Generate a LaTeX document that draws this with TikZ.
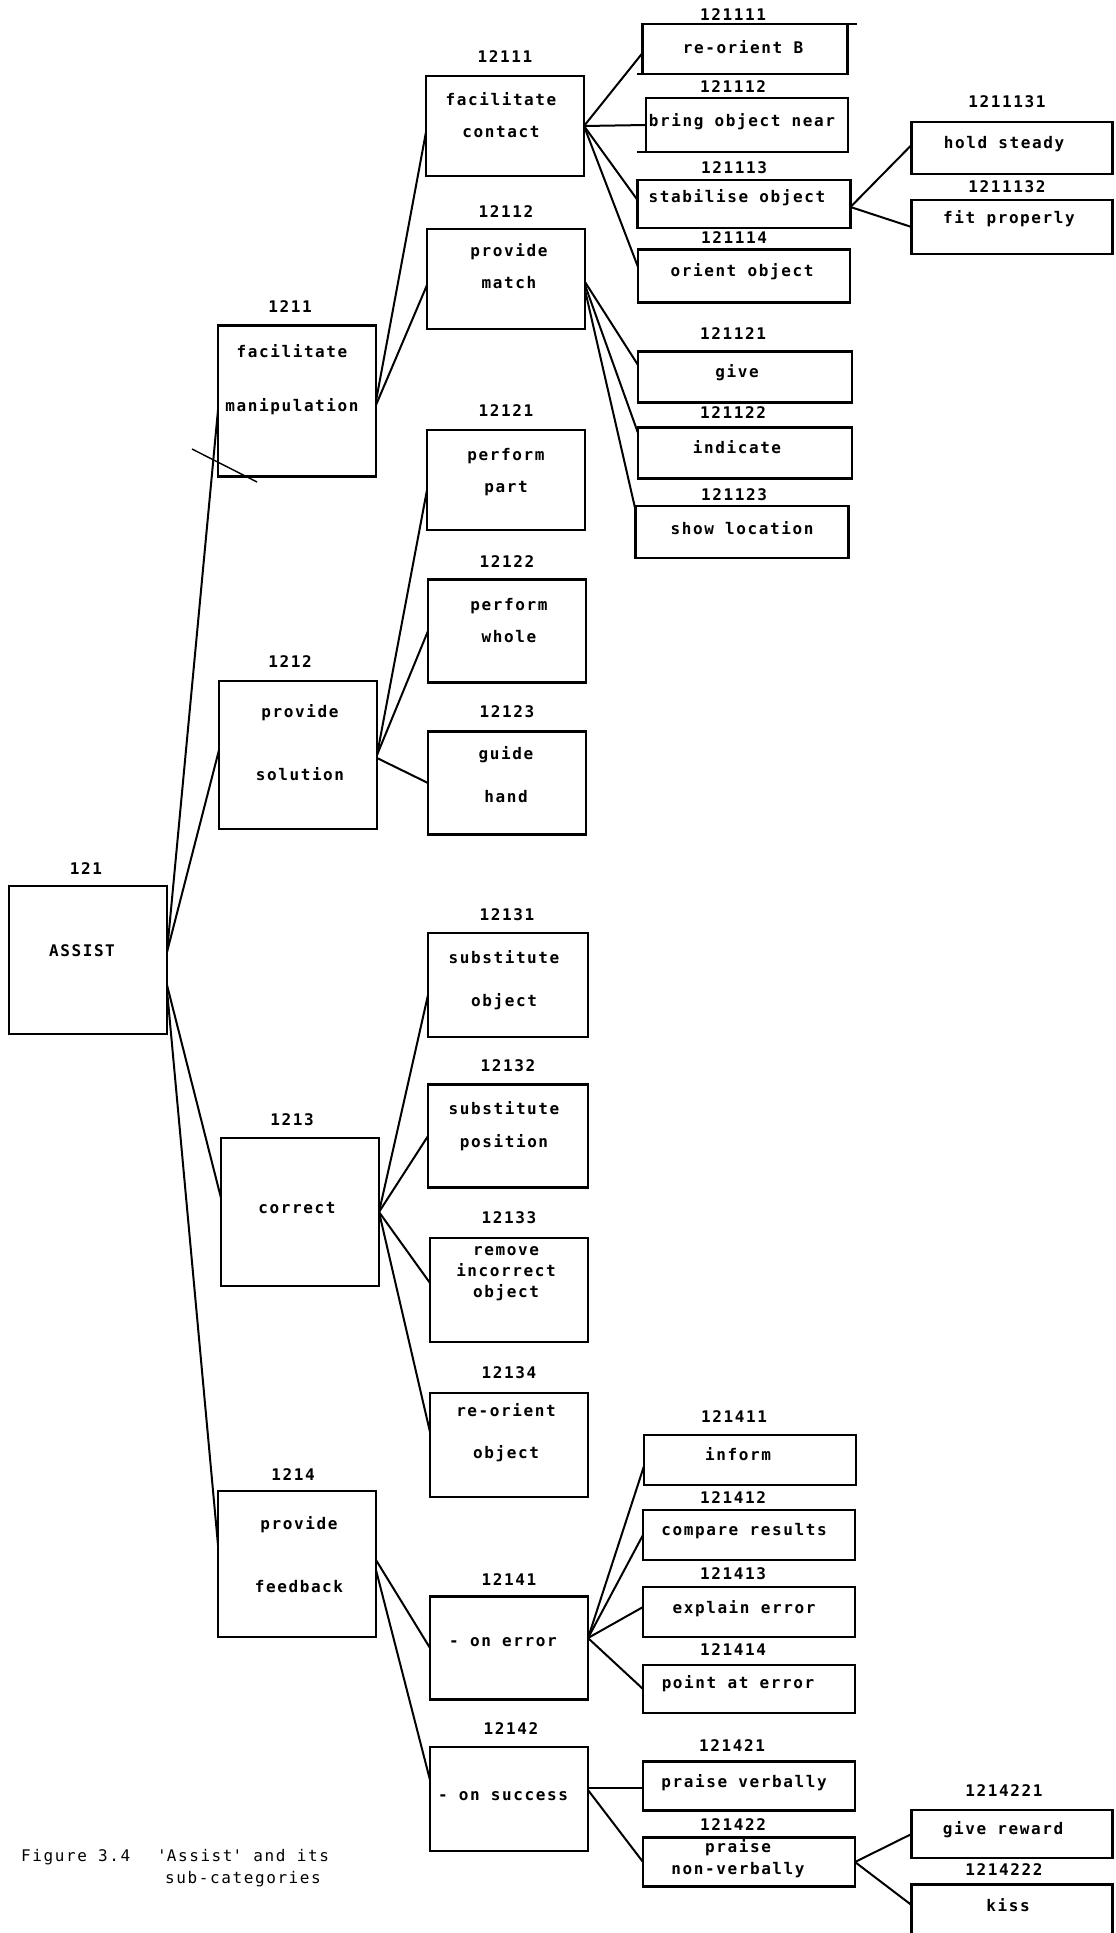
\documentclass[tikz,border=0pt]{standalone}
\usepackage{fontspec}
\newfontfamily\dotfont[LetterSpace=10]{DejaVu Sans Mono}
\usetikzlibrary{positioning}
\tikzset{
  x=1pt, y=-1pt,
  every node/.style={font=\dotfont\bfseries\fontsize{16}{19}\selectfont},
  box/.style={draw, line width=2.4pt, inner sep=0pt, outer sep=0pt},
  big/.style={box, minimum width=158pt, minimum height=148pt},
  mid/.style={box, minimum width=158pt, minimum height=103pt},
  leaf/.style={box, minimum width=212pt, minimum height=50pt},
  tip/.style={box, minimum width=201pt, minimum height=52pt},
  num/.style={inner sep=0pt},
  txt/.style={inner sep=0pt, align=center},
  caption/.style={inner sep=0pt, anchor=base west, font=\dotfont\fontsize{16}{19}\selectfont},
  link/.style={line width=2pt},
}
\begin{document}
\begin{tikzpicture}
  \useasboundingbox (0,0) rectangle (1116,1933);
  \clip (0,0) rectangle (1116,1933);

  % boxes
  \node[big] (assist) at (88,960) {};
  \node[big, minimum height=151pt] (b1211) at (297,401) {};
  \node[big] (b1212) at (298,755) {};
  \node[big] (b1213) at (300,1212) {};
  \node[big, minimum height=146pt] (b1214) at (297,1564) {};

  \node[mid, minimum height=100pt] (b12111) at (505,126) {};
  \node[mid, minimum height=100pt] (b12112) at (506,279) {};
  \node[mid, minimum height=100pt] (b12121) at (506,480) {};
  \node[mid] (b12122) at (507,631) {};
  \node[mid] (b12123) at (507,783) {};
  \node[mid, minimum width=160pt, minimum height=104pt] (b12131) at (508,985) {};
  \node[mid, minimum width=160pt] (b12132) at (508,1136) {};
  \node[mid, minimum height=104pt] (b12133) at (509,1290) {};
  \node[mid, minimum height=104pt] (b12134) at (509,1445) {};
  \node[mid] (b12141) at (509,1648) {};
  \node[mid, minimum height=104pt] (b12142) at (509,1799) {};

  \node[leaf, minimum width=205pt] (b121111) at (745,49) {};
  \node[leaf, minimum width=202pt, minimum height=54pt] (b121112) at (747,125) {};
  \node[leaf, minimum width=213pt, minimum height=48pt] (b121113) at (744,204) {};
  \node[leaf, minimum height=53pt] (b121114) at (744,276) {};
  \node[leaf, minimum width=214pt, minimum height=51pt] (b121121) at (745,377) {};
  \node[leaf, minimum width=214pt, minimum height=51pt] (b121122) at (745,453) {};
  \node[leaf, minimum width=213pt, minimum height=52pt] (b121123) at (742,532) {};
  \node[leaf] (b121411) at (750,1460) {};
  \node[leaf] (b121412) at (749,1535) {};
  \node[leaf] (b121413) at (749,1612) {};
  \node[leaf, minimum height=48pt] (b121414) at (749,1689) {};
  \node[leaf, minimum height=49pt] (b121421) at (749,1786) {};
  \node[leaf, minimum height=49pt] (b121422) at (749,1862) {};

  \node[tip] (b1211131) at (1012,148) {};
  \node[tip, minimum height=54pt] (b1211132) at (1012,227) {};
  \node[tip, minimum height=48pt] (b1214221) at (1012,1834) {};
  \node[tip, minimum height=75pt] (b1214222) at (1012,1922) {};

  % numbers
  \node[num] (n121) at (86,869) {121};
  \node[num] (n1211) at (290,307) {1211};
  \node[num] (n1212) at (290,662) {1212};
  \node[num] (n1213) at (292,1120) {1213};
  \node[num] (n1214) at (293,1475) {1214};
  \node[num] (n12111) at (505,57) {12111};
  \node[num] (n12112) at (506,212) {12112};
  \node[num] (n12121) at (506,411) {12121};
  \node[num] (n12122) at (507,562) {12122};
  \node[num] (n12123) at (507,712) {12123};
  \node[num] (n12131) at (507,915) {12131};
  \node[num] (n12132) at (508,1066) {12132};
  \node[num] (n12133) at (509,1218) {12133};
  \node[num] (n12134) at (509,1373) {12134};
  \node[num] (n12141) at (509,1580) {12141};
  \node[num] (n12142) at (511,1729) {12142};
  \node[num] (n121111) at (733,15) {121111};
  \node[num] (n121112) at (733,87) {121112};
  \node[num] (n121113) at (734,168) {121113};
  \node[num] (n121114) at (734,238) {121114};
  \node[num] (n121121) at (733,334) {121121};
  \node[num] (n121122) at (733,413) {121122};
  \node[num] (n121123) at (734,495) {121123};
  \node[num] (n121411) at (734,1417) {121411};
  \node[num] (n121412) at (733,1498) {121412};
  \node[num] (n121413) at (733,1574) {121413};
  \node[num] (n121414) at (733,1650) {121414};
  \node[num] (n121421) at (732,1746) {121421};
  \node[num] (n121422) at (733,1825) {121422};
  \node[num] (n1211131) at (1007,102) {1211131};
  \node[num] (n1211132) at (1007,187) {1211132};
  \node[num] (n1214221) at (1004,1791) {1214221};
  \node[num] (n1214222) at (1004,1870) {1214222};

  % texts
  \node[txt] (t121) at (82,951) {ASSIST};
  \node[txt] (t1211) at (292,380) {facilitate\\[35pt]manipulation};
  \node[txt] (t1212) at (300,743) {provide\\[44pt]solution};
  \node[txt] (t1213) at (297,1208) {correct};
  \node[txt] (t1214) at (299,1555) {provide\\[44pt]feedback};
  \node[txt] (t12111) at (501,115) {facilitate\\[13pt]contact};
  \node[txt] (t12112) at (509,266) {provide\\[13pt]match};
  \node[txt] (t12121) at (506,472) {perform\\[13pt]part};
  \node[txt] (t12122) at (509,621) {perform\\[13pt]whole};
  \node[txt] (t12123) at (506,775) {guide\\[24pt]hand};
  \node[txt] (t12131) at (504,980) {substitute\\[24pt]object};
  \node[txt] (t12132) at (504,1126) {substitute\\[14pt]position};
  \node[txt] (t12133) at (506,1274) {remove\\[2pt]incorrect\\[2pt]object};
  \node[txt] (t12134) at (506,1433) {re-orient\\[23pt]object};
  \node[txt] (t12141) at (503,1642) {- on error};
  \node[txt] (t12142) at (503,1796) {- on success};
  \node[txt] (t121111) at (743,47) {re-orient B};
  \node[txt] (t121112) at (742,122) {bring object near};
  \node[txt] (t121113) at (737,198) {stabilise object};
  \node[txt] (t121114) at (742,272) {orient object};
  \node[txt] (t121121) at (737,373) {give};
  \node[txt] (t121122) at (737,447) {indicate};
  \node[txt] (t121123) at (742,528) {show location};
  \node[txt] (t1211131) at (1004,144) {hold steady};
  \node[txt] (t1211132) at (1009,219) {fit properly};
  \node[txt] (t121411) at (738,1454) {inform};
  \node[txt] (t121412) at (744,1531) {compare results};
  \node[txt] (t121413) at (744,1609) {explain error};
  \node[txt] (t121414) at (738,1684) {point at error};
  \node[txt] (t121421) at (744,1783) {praise verbally};
  \node[txt] (t121422) at (738,1859) {praise\\[3pt]non-verbally};
  \node[txt] (t1214221) at (1003,1830) {give reward};
  \node[txt] (t1214222) at (1008,1905) {kiss};

  % caption
  \node[caption] (fig) at (21,1861) {Figure 3.4};
  \node[caption] (cap1) at (157,1861) {\textquotesingle Assist\textquotesingle\ and its};
  \node[caption] (cap2) at (165,1883) {sub-categories};

  % lines
  \draw[link] ([yshift=8pt]assist.east) -- ([yshift=-9pt]b1211.west);
  \draw[link] ([yshift=8pt]assist.east) -- ([yshift=5pt]b1212.west);
  \draw[link] ([yshift=-25pt]assist.east) -- ([yshift=14pt]b1213.west);
  \draw[link] ([yshift=-30pt]assist.east) -- ([yshift=19pt]b1214.west);

  \draw[link] (b1211.east) -- ([yshift=-6pt]b12111.west);
  \draw[link] ([yshift=-4pt]b1211.east) -- ([yshift=-6pt]b12112.west);
  \draw[link] (b1212.east) -- ([yshift=-10pt]b12121.west);
  \draw[link] (b1212.east) -- (b12122.west);
  \draw[link] ([yshift=-3pt]b1212.east) -- (b12123.west);
  \draw[link] (b1213.east) -- ([yshift=-10pt]b12131.west);
  \draw[link] (b1213.east) -- (b12132.west);
  \draw[link] (b1213.east) -- ([yshift=7pt]b12133.west);
  \draw[link] (b1213.east) -- ([yshift=13pt]b12134.west);
  \draw[link] ([yshift=4pt]b1214.east) -- (b12141.west);
  \draw[link] ([yshift=-6pt]b1214.east) -- ([yshift=19pt]b12142.west);

  \draw[link] (b12111.east) -- ([yshift=-4pt]b121111.west);
  \draw[link] (b12111.east) -- (b121112.west);
  \draw[link] (b12111.east) -- ([yshift=4pt]b121113.west);
  \draw[link] (b12111.east) -- ([yshift=9pt]b121114.west);
  \draw[link] ([yshift=-3pt]b12112.east) -- ([yshift=12pt]b121121.west);
  \draw[link] ([yshift=-6pt]b12112.east) -- ([yshift=20pt]b121122.west);
  \draw[link] ([yshift=-11pt]b12112.east) -- ([yshift=22pt]b121123.west);
  \draw[link] ([yshift=-3pt]b121113.east) -- ([yshift=3pt]b1211131.west);
  \draw[link] ([yshift=-3pt]b121113.east) -- (b1211132.west);

  \draw[link] ([yshift=10pt]b12141.east) -- ([yshift=-6pt]b121411.west);
  \draw[link] ([yshift=10pt]b12141.east) -- (b121412.west);
  \draw[link] ([yshift=10pt]b12141.east) -- ([yshift=5pt]b121413.west);
  \draw[link] ([yshift=10pt]b12141.east) -- (b121414.west);
  \draw[link] ([yshift=11pt]b12142.east) -- ([yshift=-2pt]b121421.west);
  \draw[link] ([yshift=9pt]b12142.east) -- (b121422.west);
  \draw[link] (b121422.east) -- (b1214221.west);
  \draw[link] (b121422.east) -- ([yshift=17pt]b1214222.west);

  % loose strokes
  \draw[link] (b121111.north east) -- ++(9,0);
  \draw[link] (b121111.south west) -- ++(-6,0);
  \draw[link] (b121112.south west) -- ++(-9,0);
  \draw[line width=1.4pt] (192,449) -- (257,482);
\end{tikzpicture}
\end{document}
